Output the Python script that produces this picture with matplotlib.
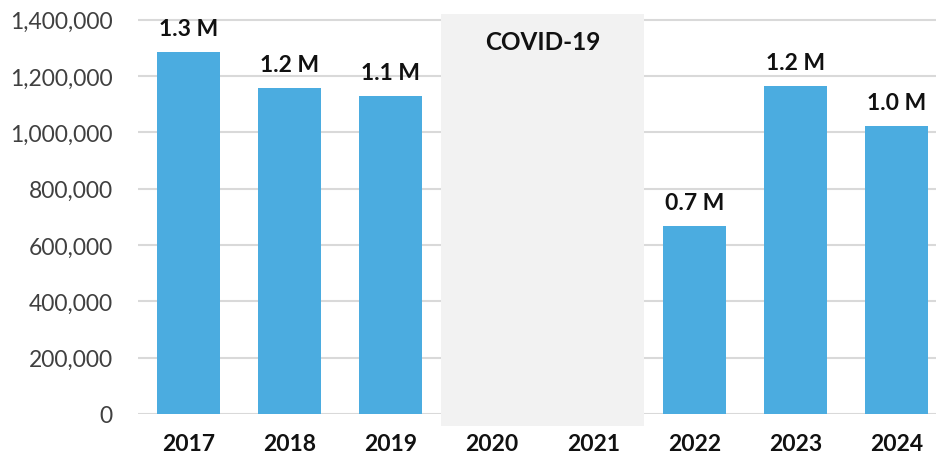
import numpy as np
import matplotlib
matplotlib.use('Agg')
import matplotlib.pyplot as plt
import matplotlib.transforms as mtransforms
from matplotlib.patches import Rectangle

plt.rcParams['font.family'] = ['Lato', 'DejaVu Sans']

# Dados
years = ['2017', '2018', '2019', '2020', '2021', '2022', '2023', '2024']
values = [1284000, 1157000, 1128000, np.nan, np.nan, 669000, 1166000, 1024000]
labels = ['1.3 M', '1.2 M', '1.1 M', '', '', '0.7 M', '1.2 M', '1.0 M']
covid_years = ['2020', '2021']
covid_text = 'COVID-19'
yticks = [0, 200000, 400000, 600000, 800000, 1000000, 1200000, 1400000]

bar_color = '#4BACE0'
band_color = '#F2F2F2'

fig = plt.figure(figsize=(9.37, 4.6), dpi=100)
ax = fig.add_axes([138 / 937, 45 / 460, 1 - 138 / 937, (415 - 15) / 460])

x = np.arange(len(years))

# Faixa COVID
i0 = years.index(covid_years[0])
i1 = years.index(covid_years[-1])
trans = mtransforms.blended_transform_factory(ax.transData, ax.transAxes)
band = Rectangle((i0 - 0.5, -0.03), (i1 - i0) + 1, 1.03, transform=trans,
                 facecolor=band_color, edgecolor='none', zorder=1, clip_on=False)
ax.add_patch(band)
ax.text((i0 + i1) / 2, 0.932, covid_text, transform=trans, ha='center', va='center',
        fontsize=17.5, fontweight='bold', color='#111111', zorder=3)

# Barras
vals = np.array(values, dtype=float)
ax.bar(x, np.nan_to_num(vals), width=0.62, color=bar_color, zorder=2)

for xi, v, lab in zip(x, vals, labels):
    if np.isnan(v):
        continue
    ax.annotate(lab, (xi, v), xytext=(0, 17), textcoords='offset pixels',
                ha='center', va='baseline', fontsize=16.5, fontweight='bold',
                color='#111111', zorder=3)

ax.set_xlim(-0.5, 7.4)
ax.set_ylim(0, 1420000)
ax.set_yticks(yticks)
ax.set_yticklabels([f'{t:,}' for t in yticks], fontsize=16.5, color='#404040')
ax.set_xticks(x)
ax.set_xticklabels(years, fontsize=16.5, fontweight='bold', color='#111111')
ax.tick_params(axis='both', length=0)
ax.tick_params(axis='y', pad=18)
ax.tick_params(axis='x', pad=14)

ax.set_axisbelow(True)
ax.grid(axis='y', color='#D9D9D9', linewidth=1.5, zorder=0)
for s in ax.spines.values():
    s.set_visible(False)

fig.savefig('out.png', dpi=100)
